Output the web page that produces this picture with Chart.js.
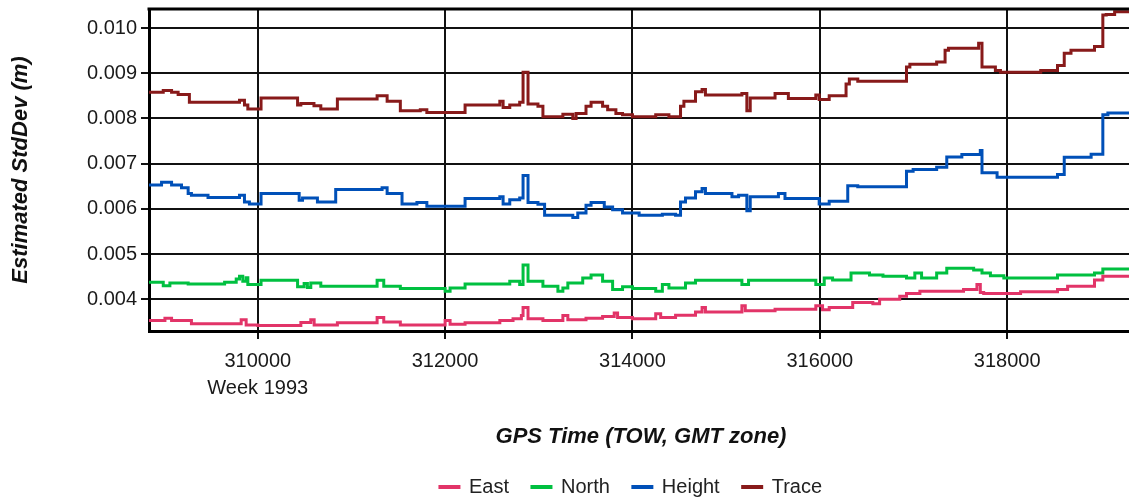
<!DOCTYPE html>
<html>
<head>
<meta charset="utf-8">
<script src="https://cdn.jsdelivr.net/npm/chart.js@4/dist/chart.umd.min.js"></script>
<style>
  html, body { margin: 0; padding: 0; background: #fff; overflow: hidden; }
</style>
</head>
<body>
<canvas id="chart" width="1133" height="507"></canvas>
<script>
Chart.defaults.font.family = "'Liberation Sans', Arial, sans-serif";
Chart.defaults.color = '#1a1a1a';

const X_MIN = 308839;
const X_MAX = 319343;
const Y_MIN = 0.0033;
const Y_MAX = 0.01042;

const xTicks = [310000, 312000, 314000, 316000, 318000];
const yTicks = [0.004, 0.005, 0.006, 0.007, 0.008, 0.009, 0.010];
const weekLabel = 'Week 1993';

// [GPS time of week, estimated std dev] - each value holds until the next time
const east = [
  [308839, 0.00353], [309009, 0.00358], [309080, 0.00353], [309292, 0.00346], [309823, 0.00355],
  [309876, 0.00343], [310000, 0.00342], [310460, 0.00349], [310566, 0.00355], [310602, 0.00343],
  [310850, 0.00348], [311274, 0.0036], [311345, 0.0035], [311522, 0.00343], [312000, 0.00353],
  [312053, 0.00345], [312213, 0.00348], [312584, 0.00353], [312725, 0.00357], [312814, 0.00364],
  [312832, 0.00382], [312885, 0.00357], [313044, 0.00353], [313257, 0.00364], [313310, 0.00355],
  [313504, 0.00358], [313681, 0.00362], [313805, 0.0037], [313841, 0.0036], [314000, 0.00357],
  [314248, 0.00368], [314301, 0.0036], [314460, 0.00365], [314673, 0.00372], [314743, 0.00382],
  [314779, 0.00372], [315168, 0.00386], [315204, 0.00375], [315522, 0.00378], [315957, 0.00386],
  [316029, 0.00377], [316100, 0.00382], [316351, 0.00393], [316566, 0.0039], [316638, 0.004],
  [316853, 0.00407], [316925, 0.00413], [317068, 0.00418], [317534, 0.00422], [317677, 0.00433],
  [317713, 0.00415], [317749, 0.00413], [318143, 0.00417], [318537, 0.00422], [318645, 0.00429],
  [318932, 0.00443], [319021, 0.00451], [319343, 0.00451]
];
const north = [
  [308839, 0.00438], [308991, 0.0043], [309062, 0.00436], [309257, 0.00434], [309646, 0.00438],
  [309770, 0.00445], [309805, 0.00451], [309840, 0.0044], [309876, 0.00448], [309894, 0.00433],
  [310035, 0.00442], [310425, 0.00428], [310495, 0.00435], [310530, 0.00426], [310566, 0.00436],
  [310673, 0.00429], [311274, 0.00442], [311345, 0.00429], [311522, 0.00424], [312000, 0.00418],
  [312053, 0.00425], [312213, 0.00434], [312690, 0.0044], [312796, 0.00433], [312832, 0.00476],
  [312885, 0.0044], [313044, 0.00429], [313204, 0.00418], [313257, 0.00425], [313310, 0.00436],
  [313469, 0.00447], [313558, 0.00454], [313681, 0.0044], [313788, 0.00422], [313894, 0.00428],
  [314000, 0.00424], [314248, 0.00418], [314319, 0.00433], [314389, 0.00425], [314566, 0.00436],
  [314673, 0.00442], [315168, 0.00433], [315239, 0.00442], [315957, 0.00433], [316047, 0.00447],
  [316136, 0.00443], [316333, 0.00458], [316530, 0.00454], [316674, 0.00451], [316925, 0.00447],
  [317014, 0.00458], [317086, 0.00447], [317247, 0.00458], [317355, 0.00469], [317642, 0.00465],
  [317731, 0.00458], [317821, 0.00452], [317964, 0.00447], [318537, 0.00454], [318932, 0.00458],
  [319021, 0.00467], [319343, 0.00467]
];
const height = [
  [308839, 0.00653], [308973, 0.00659], [309080, 0.00653], [309186, 0.00647], [309257, 0.00634],
  [309292, 0.0063], [309469, 0.00625], [309805, 0.0063], [309858, 0.00615], [309911, 0.00611],
  [310035, 0.00634], [310442, 0.00619], [310478, 0.00624], [310637, 0.00615], [310832, 0.00643],
  [311327, 0.00647], [311381, 0.00634], [311540, 0.00611], [311699, 0.00614], [311805, 0.00606],
  [312213, 0.00623], [312584, 0.00627], [312619, 0.00611], [312690, 0.0062], [312796, 0.00624],
  [312832, 0.00674], [312885, 0.00614], [312991, 0.0061], [313062, 0.00586], [313363, 0.00581],
  [313416, 0.00591], [313504, 0.00608], [313558, 0.00614], [313699, 0.00604], [313788, 0.00598],
  [313894, 0.00591], [314071, 0.00586], [314319, 0.00588], [314460, 0.00586], [314513, 0.00615],
  [314566, 0.00624], [314673, 0.00638], [314743, 0.00645], [314779, 0.00634], [315062, 0.00627],
  [315133, 0.0063], [315221, 0.00596], [315257, 0.00627], [315558, 0.00634], [315628, 0.00623],
  [315993, 0.00611], [316100, 0.00617], [316298, 0.00651], [316405, 0.00649], [316925, 0.00683],
  [316996, 0.00687], [317247, 0.00692], [317355, 0.00715], [317516, 0.0072], [317713, 0.00729],
  [317731, 0.0068], [317892, 0.0067], [318537, 0.00676], [318609, 0.00714], [318896, 0.00721],
  [319021, 0.00808], [319075, 0.00812], [319343, 0.00812]
];
const trace = [
  [308839, 0.00858], [308991, 0.00862], [309080, 0.00858], [309150, 0.00853], [309270, 0.00836],
  [309805, 0.0084], [309858, 0.0083], [309894, 0.00821], [310035, 0.00845], [310425, 0.0083],
  [310460, 0.00833], [310600, 0.00828], [310673, 0.00821], [310850, 0.00843], [311274, 0.0085],
  [311381, 0.00838], [311522, 0.00817], [311735, 0.00819], [311805, 0.00813], [312213, 0.0083],
  [312584, 0.00838], [312619, 0.00824], [312690, 0.0083], [312796, 0.00836], [312832, 0.00902],
  [312885, 0.00832], [312991, 0.00827], [313044, 0.00804], [313257, 0.00809], [313363, 0.008],
  [313398, 0.00811], [313504, 0.00827], [313558, 0.00836], [313681, 0.00827], [313735, 0.00819],
  [313823, 0.00811], [313894, 0.00808], [314000, 0.00804], [314248, 0.00808], [314389, 0.00804],
  [314513, 0.00827], [314549, 0.00838], [314673, 0.00859], [314743, 0.00864], [314779, 0.00852],
  [315168, 0.00855], [315221, 0.00817], [315257, 0.00845], [315522, 0.00855], [315664, 0.00844],
  [315957, 0.00852], [315993, 0.00842], [316100, 0.0085], [316280, 0.00876], [316315, 0.00887],
  [316405, 0.00882], [316925, 0.00914], [316961, 0.0092], [317247, 0.00925], [317337, 0.00951],
  [317373, 0.00955], [317695, 0.00966], [317731, 0.00914], [317874, 0.00906], [317928, 0.00902],
  [318358, 0.00906], [318537, 0.00917], [318609, 0.00944], [318681, 0.00951], [318932, 0.00959],
  [319021, 0.01029], [319057, 0.0103], [319147, 0.01036], [319343, 0.01036]
];

function series(label, points, color) {
  return {
    label: label,
    data: points.map(p => ({ x: p[0], y: p[1] })),
    borderColor: color,
    backgroundColor: color,
    borderWidth: 3,
    pointRadius: 0,
    stepped: 'before',   // hold each value until the next sample
    fill: false
  };
}

// top edge of the plot frame (the axes only draw left and bottom)
const frameTop = {
  id: 'frameTop',
  afterLayout(chart) {
    // legend sits a little left of the plot centre in the original
    chart.legend.left -= 10;
    chart.legend.right -= 10;
  },
  afterDraw(chart) {
    const { ctx, chartArea } = chart;
    ctx.save();
    ctx.strokeStyle = '#000';
    ctx.lineWidth = 3;
    ctx.beginPath();
    ctx.moveTo(chartArea.left - 1.5, chartArea.top);
    ctx.lineTo(chartArea.right, chartArea.top);
    ctx.stroke();
    ctx.restore();
  }
};

new Chart(document.getElementById('chart').getContext('2d'), {
  type: 'line',
  data: {
    datasets: [
      series('East', east, 'rgb(226, 52, 104)'),
      series('North', north, 'rgb(0, 192, 64)'),
      series('Height', height, 'rgb(0, 80, 184)'),
      series('Trace', trace, 'rgb(136, 26, 26)')
    ]
  },
  plugins: [frameTop],
  options: {
    responsive: false,
    animation: false,
    layout: { padding: { top: 9, left: 0, right: 0, bottom: 0 } },
    plugins: {
      tooltip: { enabled: false },
      legend: {
        position: 'bottom',
        fullSize: false,
        labels: { boxWidth: 19, boxHeight: 1, padding: 23, color: '#222', font: { size: 20 } }
      }
    },
    scales: {
      x: {
        type: 'linear',
        min: X_MIN,
        max: X_MAX,
        afterBuildTicks: s => { s.ticks = xTicks.map(v => ({ value: v })); },
        afterFit: s => { s.height = 123; s.paddingLeft = 0; s.paddingRight = 0; },
        ticks: {
          autoSkip: false,
          maxRotation: 0,
          padding: 9,
          font: { size: 20, lineHeight: 1.35 },
          callback: v => v === 310000 ? [String(v), weekLabel] : String(v)
        },
        grid: { color: '#111', lineWidth: 2, tickLength: 8 },
        border: { color: '#000', width: 3 },
        title: {
          display: true,
          text: 'GPS Time (TOW, GMT zone)',
          color: '#111',
          font: { size: 22, weight: 'bold', style: 'italic' },
          padding: { top: 0, bottom: 4 }
        }
      },
      y: {
        min: Y_MIN,
        max: Y_MAX,
        afterBuildTicks: s => { s.ticks = yTicks.map(v => ({ value: v })); },
        afterFit: s => { s.width = 149; s.paddingTop = 0; s.paddingBottom = 0; },
        ticks: {
          padding: 4,
          font: { size: 20 },
          callback: v => v.toFixed(3)
        },
        grid: { color: '#111', lineWidth: 2, tickLength: 8 },
        border: { color: '#000', width: 3 },
        title: {
          display: true,
          text: 'Estimated StdDev (m)',
          color: '#111',
          font: { size: 22, weight: 'bold', style: 'italic' },
          padding: { top: 8, bottom: 0 }
        }
      }
    }
  }
});
</script>
</body>
</html>
